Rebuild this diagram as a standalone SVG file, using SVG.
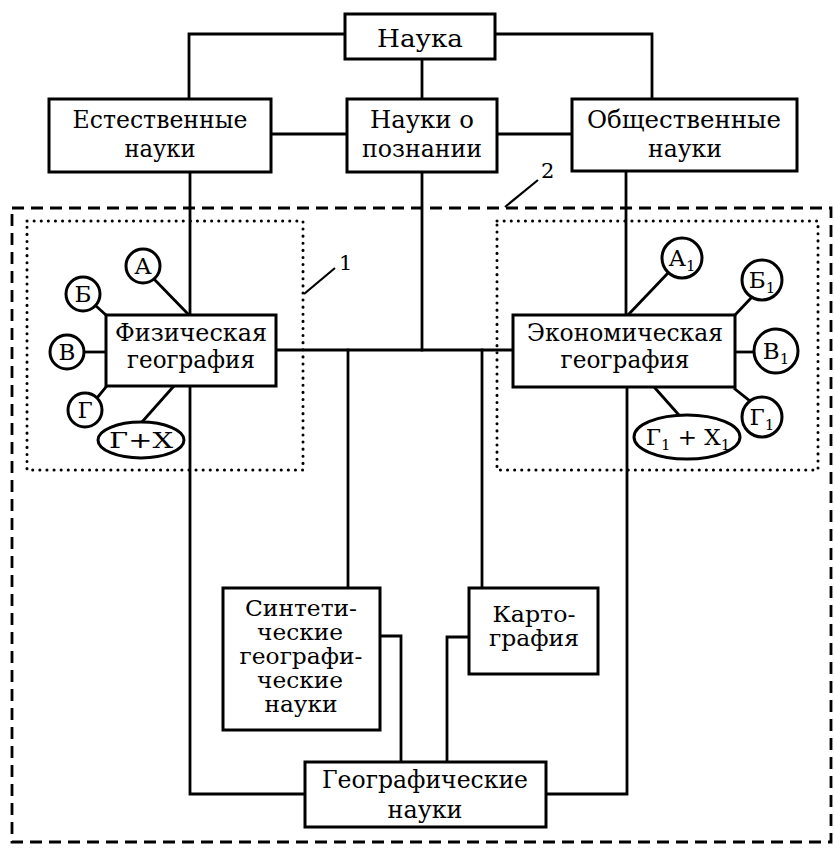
<svg xmlns="http://www.w3.org/2000/svg" width="834" height="849" viewBox="0 0 834 849">
<style>
.box{fill:#fff;stroke:#000;stroke-width:3}
.ln{fill:none;stroke:#000;stroke-width:2.8;stroke-linecap:square}
.t{font-family:"DejaVu Serif","Liberation Serif",serif;font-size:25px;fill:#000;text-anchor:middle}
.s{font-size:22px}
.c{font-family:"DejaVu Serif","Liberation Serif",serif;font-size:23px;fill:#000;text-anchor:middle}
.sub{font-size:15px}
.dash{fill:none;stroke:#000;stroke-width:2.8;stroke-dasharray:12 7}
.dot{fill:none;stroke:#000;stroke-width:3;stroke-dasharray:0.1 7;stroke-linecap:round}
.lead{fill:none;stroke:#000;stroke-width:2.2}
.lbl{font-family:"DejaVu Serif","Liberation Serif",serif;font-size:21px;fill:#000}
</style>

<g id="regions">
<rect class="dash" x="12" y="208" width="819" height="634"/>
<rect class="dot" x="27" y="221" width="276" height="249"/>
<rect class="dot" x="497" y="221" width="321" height="249"/>
<line class="lead" x1="304" y1="294" x2="335" y2="268"/>
<text class="lbl" x="339" y="270">1</text>
<line class="lead" x1="505" y1="207" x2="538" y2="180"/>
<text class="lbl" x="541" y="178">2</text>
</g>

<g id="connectors">
<polyline class="ln" points="345,34 189,34 189,99"/>
<polyline class="ln" points="495,34 652,34 652,99"/>
<line class="ln" x1="422" y1="59" x2="422" y2="99"/>
<line class="ln" x1="271" y1="134" x2="347" y2="134"/>
<line class="ln" x1="497" y1="134" x2="572" y2="134"/>
<line class="ln" x1="190" y1="172" x2="190" y2="315"/>
<polyline class="ln" points="190,386 190,794 305,794"/>
<line class="ln" x1="422" y1="172" x2="422" y2="350"/>
<line class="ln" x1="626" y1="171" x2="626" y2="315"/>
<polyline class="ln" points="627,387 627,794 546,794"/>
<line class="ln" x1="276" y1="350" x2="513" y2="350"/>
<line class="ln" x1="348" y1="350" x2="348" y2="588"/>
<line class="ln" x1="482" y1="350" x2="482" y2="588"/>
<polyline class="ln" points="380,636 401,636 401,762"/>
<polyline class="ln" points="469,637 447,637 447,762"/>
<line class="ln" x1="153" y1="278" x2="188" y2="314"/>
<line class="ln" x1="96" y1="306" x2="106" y2="315"/>
<line class="ln" x1="84" y1="352" x2="106" y2="352"/>
<line class="ln" x1="97" y1="398" x2="106" y2="387"/>
<line class="ln" x1="142" y1="422" x2="173" y2="387"/>
<line class="ln" x1="628" y1="315" x2="668" y2="273"/>
<line class="ln" x1="735" y1="315" x2="752" y2="297"/>
<line class="ln" x1="735" y1="352" x2="754" y2="352"/>
<line class="ln" x1="735" y1="389" x2="750" y2="401"/>
<line class="ln" x1="655" y1="388" x2="678" y2="414"/>
</g>

<g id="nauka">
<rect class="box" x="345" y="14" width="150" height="45"/>
<text class="t" x="420" y="47" textLength="86" lengthAdjust="spacingAndGlyphs">Наука</text>
</g>
<g id="estestvennye">
<rect class="box" x="49" y="99" width="222" height="73"/>
<text class="t" x="160" y="128" textLength="175" lengthAdjust="spacingAndGlyphs">Естественные</text>
<text class="t" x="160" y="157" textLength="71" lengthAdjust="spacingAndGlyphs">науки</text>
</g>
<g id="poznanie">
<rect class="box" x="347" y="99" width="150" height="73"/>
<text class="t" x="422" y="128" textLength="104" lengthAdjust="spacingAndGlyphs">Науки о</text>
<text class="t" x="422" y="157" textLength="120" lengthAdjust="spacingAndGlyphs">познании</text>
</g>
<g id="obshchestvennye">
<rect class="box" x="572" y="99" width="225" height="72"/>
<text class="t" x="684" y="128" textLength="194" lengthAdjust="spacingAndGlyphs">Общественные</text>
<text class="t" x="685" y="157" textLength="74" lengthAdjust="spacingAndGlyphs">науки</text>
</g>

<g id="fizgeo">
<rect class="box" x="106" y="315" width="170" height="71"/>
<text class="t" x="191" y="341" textLength="152" lengthAdjust="spacingAndGlyphs">Физическая</text>
<text class="t" x="191" y="368" textLength="128" lengthAdjust="spacingAndGlyphs">география</text>
</g>
<g id="fiz-a"><circle class="box" cx="143" cy="266" r="17" stroke-width="2.5"/><text class="c" x="143" y="274">А</text></g>
<g id="fiz-b"><circle class="box" cx="83" cy="294" r="17" stroke-width="2.5"/><text class="c" x="83" y="302">Б</text></g>
<g id="fiz-v"><circle class="box" cx="67" cy="352" r="17" stroke-width="2.5"/><text class="c" x="67" y="360">В</text></g>
<g id="fiz-g"><circle class="box" cx="85" cy="410" r="17" stroke-width="2.5"/><text class="c" x="85" y="418">Г</text></g>
<g id="fiz-gx"><ellipse class="box" cx="141" cy="440" rx="43" ry="18" stroke-width="2.5"/><text class="c" x="141" y="448" textLength="64" lengthAdjust="spacingAndGlyphs">Г+Х</text></g>

<g id="ekogeo">
<rect class="box" x="513" y="315" width="222" height="72"/>
<text class="t" x="625" y="341" textLength="196" lengthAdjust="spacingAndGlyphs">Экономическая</text>
<text class="t" x="625" y="368" textLength="129" lengthAdjust="spacingAndGlyphs">география</text>
</g>
<g id="eko-a"><circle class="box" cx="682" cy="258" r="20" stroke-width="2.5"/><text class="c" x="682" y="266"><tspan>А</tspan><tspan class="sub" dy="5">1</tspan></text></g>
<g id="eko-b"><circle class="box" cx="762" cy="280" r="20" stroke-width="2.5"/><text class="c" x="762" y="288"><tspan>Б</tspan><tspan class="sub" dy="5">1</tspan></text></g>
<g id="eko-v"><circle class="box" cx="776" cy="351" r="22" stroke-width="2.5"/><text class="c" x="776" y="359"><tspan>В</tspan><tspan class="sub" dy="5">1</tspan></text></g>
<g id="eko-g"><circle class="box" cx="762" cy="417" r="20" stroke-width="2.5"/><text class="c" x="762" y="425"><tspan>Г</tspan><tspan class="sub" dy="5">1</tspan></text></g>
<g id="eko-gx"><ellipse class="box" cx="687" cy="437" rx="53" ry="22" stroke-width="2.5"/><text class="c" x="688" y="445"><tspan>Г</tspan><tspan class="sub" dy="5">1</tspan><tspan dy="-5"> + Х</tspan><tspan class="sub" dy="5">1</tspan></text></g>

<g id="sintetich">
<rect class="box" x="223" y="588" width="157" height="142"/>
<text class="t s" x="301" y="616" textLength="112" lengthAdjust="spacingAndGlyphs">Синтети-</text>
<text class="t s" x="300" y="640" textLength="86" lengthAdjust="spacingAndGlyphs">ческие</text>
<text class="t s" x="301" y="664" textLength="123" lengthAdjust="spacingAndGlyphs">географи-</text>
<text class="t s" x="300" y="688" textLength="86" lengthAdjust="spacingAndGlyphs">ческие</text>
<text class="t s" x="301" y="712" textLength="73" lengthAdjust="spacingAndGlyphs">науки</text>
</g>
<g id="kartografia">
<rect class="box" x="469" y="588" width="129" height="86"/>
<text class="t s" x="534" y="622" textLength="83" lengthAdjust="spacingAndGlyphs">Карто-</text>
<text class="t s" x="534" y="646" textLength="90" lengthAdjust="spacingAndGlyphs">графия</text>
</g>
<g id="geonauki">
<rect class="box" x="305" y="762" width="241" height="65"/>
<text class="t" x="425" y="788" textLength="206" lengthAdjust="spacingAndGlyphs">Географические</text>
<text class="t" x="425" y="818" textLength="75" lengthAdjust="spacingAndGlyphs">науки</text>
</g>
</svg>
